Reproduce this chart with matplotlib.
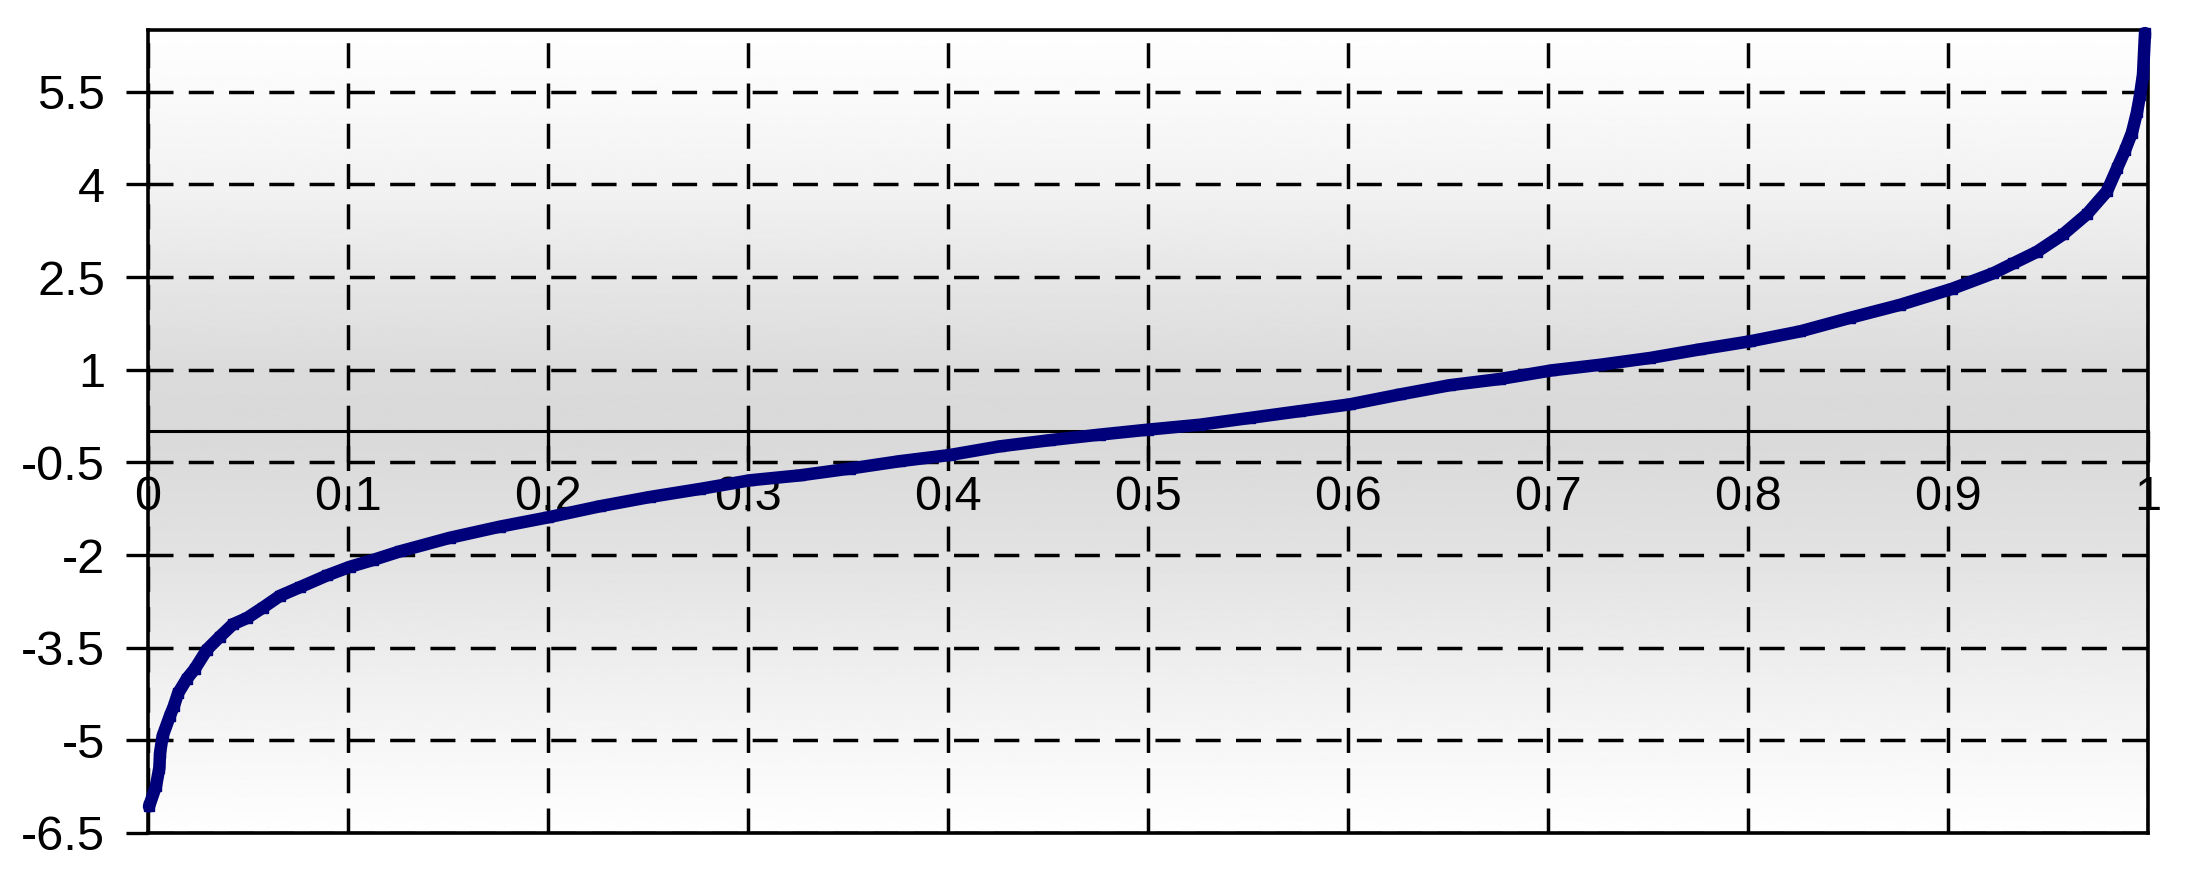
import matplotlib
matplotlib.use("Agg")
import matplotlib.pyplot as plt
import numpy as np

plt.rcParams['font.family'] = ['Liberation Sans', 'DejaVu Sans']
plt.rcParams['axes.unicode_minus'] = False
plt.rcParams['lines.scale_dashes'] = False

# --------------- data ---------------
x_vals = [0.0005, 0.004, 0.0057, 0.006, 0.0073, 0.011, 0.013, 0.015, 0.0195,
          0.0235, 0.0295, 0.036, 0.0425, 0.0495, 0.0575, 0.066, 0.076, 0.0895,
          0.101, 0.1125, 0.126, 0.151, 0.176, 0.2, 0.226, 0.251, 0.276, 0.301,
          0.326, 0.351, 0.376, 0.401, 0.426, 0.451, 0.476, 0.5, 0.526, 0.551,
          0.576, 0.601, 0.626, 0.651, 0.676, 0.702, 0.726, 0.751, 0.776, 0.801,
          0.826, 0.851, 0.876, 0.902, 0.9225, 0.9325, 0.9445, 0.9575, 0.9695,
          0.9795, 0.9845, 0.9885, 0.992, 0.9945, 0.996, 0.9975, 0.9985]
y_vals = [-6.07, -5.74, -5.44, -5.21, -4.93, -4.6, -4.44, -4.24, -4.0,
          -3.84, -3.53, -3.32, -3.12, -3.02, -2.85, -2.66, -2.52, -2.33,
          -2.19, -2.08, -1.94, -1.72, -1.54, -1.39, -1.21, -1.06, -0.93, -0.79,
          -0.71, -0.6, -0.48, -0.38, -0.24, -0.14, -0.05, 0.03, 0.11, 0.22,
          0.33, 0.44, 0.6, 0.75, 0.85, 0.99, 1.08, 1.19, 1.33, 1.46,
          1.62, 1.84, 2.05, 2.31, 2.56, 2.72, 2.91, 3.19, 3.52,
          3.89, 4.26, 4.55, 4.84, 5.17, 5.44, 5.78, 6.45]

x_ticks = [0, 0.1, 0.2, 0.3, 0.4, 0.5, 0.6, 0.7, 0.8, 0.9, 1]
y_ticks = [-6.5, -5, -3.5, -2, -0.5, 1, 2.5, 4, 5.5]

# background shading (gray level by height)
shade_y = [6.5, 5.5, 4, 2.5, 1, 0, -0.5, -2, -3.5, -5, -6.5]
shade_v = [254, 250, 242, 230, 219, 217, 219, 226, 236, 246, 254]

fig = plt.figure(figsize=(21.97, 8.85), dpi=100)
ax = fig.add_axes([148 / 2197, 1 - 833 / 885, 2000 / 2197, 803 / 885])

yy = np.linspace(6.5, -6.5, 400)
shade = np.interp(yy, shade_y[::-1], shade_v[::-1])
ax.imshow(shade[:, None], cmap='gray', vmin=0, vmax=255, aspect='auto',
          extent=[0, 1, -6.5, 6.5], zorder=-1, interpolation='bilinear')

ax.set_xlim(0, 1)
ax.set_ylim(-6.5, 6.5)

ax.set_xticks(x_ticks)
ax.set_xticklabels(['%g' % v for v in x_ticks])
ax.set_yticks(y_ticks)
ax.set_yticklabels(['%g' % v for v in y_ticks])
ax.tick_params(axis='y', length=16, width=2.4, pad=15, labelsize=35, direction='out')
ax.tick_params(axis='x', length=22, width=2.4, pad=9, labelsize=35, direction='out')
ax.grid(True, color='black', linewidth=2.5, linestyle=(0, (18, 11)))

for s in ax.spines.values():
    s.set_linewidth(2.6)
# x axis drawn along y = 0, frame bottom drawn separately
ax.spines['bottom'].set_position(('data', 0))
ax.spines['bottom'].set_linewidth(2.2)
ax.axhline(-6.5, color='black', linewidth=2.6, clip_on=False, zorder=2.6)

ax.plot(x_vals, y_vals, color='#00007a', linewidth=9, marker='s',
        markersize=7, solid_capstyle='round', zorder=3, clip_on=False)

fig.savefig('out.png', dpi=100, facecolor='white')
